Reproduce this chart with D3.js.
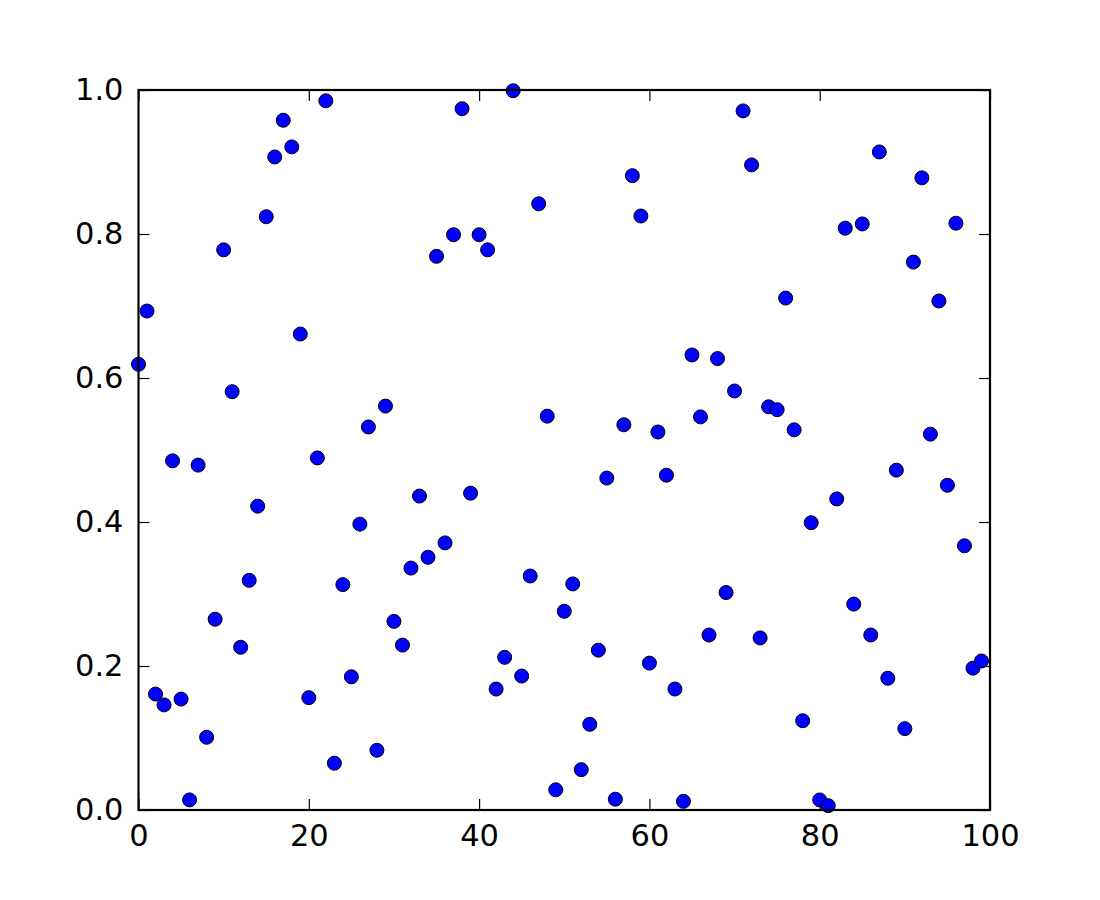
<!DOCTYPE html>
<html>
<head>
<meta charset="utf-8">
<script src="https://cdn.jsdelivr.net/npm/d3@7"></script>
<style>
  body { margin: 0; background: #fff; }
  text { font-family: "DejaVu Sans", sans-serif; }
</style>
</head>
<body>
<div id="chart"></div>
<script>
// y values of the 100 points, x is just the index 0..99
var yValues = [
    0.619, 0.693, 0.161, 0.146, 0.485, 0.154, 0.014, 0.479, 0.101, 0.265,
    0.778, 0.581, 0.226, 0.319, 0.422, 0.824, 0.907, 0.958, 0.921, 0.661,
    0.156, 0.489, 0.985, 0.065, 0.313, 0.185, 0.397, 0.532, 0.083, 0.561,
    0.262, 0.229, 0.336, 0.436, 0.351, 0.769, 0.371, 0.799, 0.974, 0.440,
    0.799, 0.778, 0.168, 0.212, 0.999, 0.186, 0.325, 0.842, 0.547, 0.028,
    0.276, 0.314, 0.056, 0.119, 0.222, 0.461, 0.015, 0.535, 0.881, 0.825,
    0.204, 0.525, 0.465, 0.168, 0.012, 0.632, 0.546, 0.243, 0.627, 0.302,
    0.582, 0.971, 0.896, 0.239, 0.560, 0.556, 0.711, 0.528, 0.124, 0.399,
    0.014, 0.006, 0.432, 0.808, 0.286, 0.814, 0.243, 0.914, 0.183, 0.472,
    0.113, 0.761, 0.878, 0.522, 0.707, 0.451, 0.815, 0.367, 0.197, 0.207
];
var xTicks = [0, 20, 40, 60, 80, 100];
var yTicks = [0.0, 0.2, 0.4, 0.6, 0.8, 1.0];

var points = yValues.map(function(v, i) { return {x: i, y: v}; });

var params = {
    "width": 1100,
    "height": 900,
    "left": 138.5,
    "top": 90,
    "plot-w": 851.5,
    "plot-h": 720,
    "tick-len": 11,
    "font-size": 30.5
};

var svg = d3.select("#chart").append("svg")
    .attr("width", params["width"])
    .attr("height", params["height"]);

var x = d3.scaleLinear().domain([0, 100]).range([0, params["plot-w"]]);
var y = d3.scaleLinear().domain([0, 1]).range([params["plot-h"], 0]);

var g = svg.append("g")
    .attr("transform", "translate(" + params["left"] + "," + params["top"] + ")");

// axes (ticks point inward, classic style)
var fmtY = d3.format(".1f");
var axisStyle = function(sel) {
    sel.select(".domain").remove();
    sel.selectAll("line").attr("stroke", "black").attr("stroke-width", 1.2);
    sel.selectAll("text").style("font-size", params["font-size"] + "px").attr("fill", "black");
};

g.append("g")
    .attr("transform", "translate(0," + params["plot-h"] + ")")
    .call(d3.axisBottom(x).tickValues(xTicks).tickSizeInner(-params["tick-len"]).tickFormat(d3.format("d")))
    .call(axisStyle)
    .selectAll("text").attr("dy", "0.71em").attr("y", 14);

g.append("g")
    .call(d3.axisTop(x).tickValues(xTicks).tickSizeInner(-params["tick-len"]).tickFormat(""))
    .call(axisStyle);

g.append("g")
    .call(d3.axisLeft(y).tickValues(yTicks).tickSizeInner(-params["tick-len"]).tickFormat(fmtY))
    .call(axisStyle)
    .selectAll("text").attr("x", -15);

g.append("g")
    .attr("transform", "translate(" + params["plot-w"] + ",0)")
    .call(d3.axisRight(y).tickValues(yTicks).tickSizeInner(-params["tick-len"]).tickFormat(""))
    .call(axisStyle);

// points
g.selectAll("circle.pt")
    .data(points)
    .enter().append("circle")
    .attr("class", "pt")
    .attr("cx", function(d) { return x(d.x); })
    .attr("cy", function(d) { return y(d.y); })
    .attr("r", 7)
    .attr("fill", "#0000ff")
    .attr("stroke", "black")
    .attr("stroke-width", 1);

// frame on top
g.append("rect")
    .attr("x", 0)
    .attr("y", 0)
    .attr("width", params["plot-w"])
    .attr("height", params["plot-h"])
    .attr("fill", "none")
    .attr("stroke", "black")
    .attr("stroke-width", 2.2);
</script>
</body>
</html>
